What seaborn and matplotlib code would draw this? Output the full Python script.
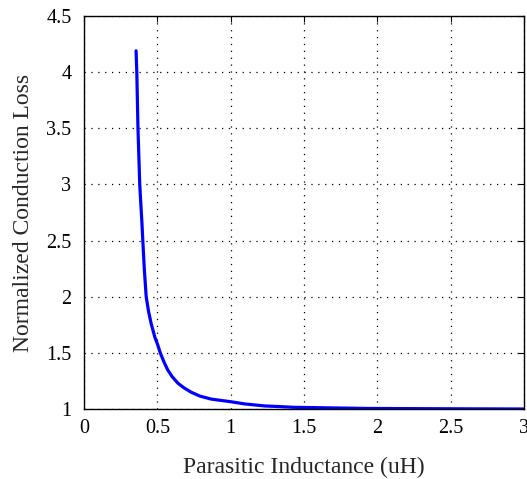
import numpy as np
import pandas as pd
import matplotlib
matplotlib.use('Agg')
import matplotlib.pyplot as plt
import seaborn as sns

# values
inductance = [0.355, 0.360, 0.368, 0.380, 0.386, 0.394, 0.401, 0.411, 0.424, 0.440,
              0.458, 0.483, 0.503, 0.520, 0.545, 0.570, 0.600, 0.640, 0.680, 0.730,
              0.790, 0.868, 1.0, 1.097, 1.234, 1.325, 1.43, 1.93, 2.5, 3.0]
loss = [4.19, 4.0, 3.5, 3.0, 2.86, 2.68, 2.5, 2.25, 2.0, 1.87,
        1.76, 1.64, 1.57, 1.50, 1.42, 1.35, 1.29, 1.23, 1.19, 1.15,
        1.115, 1.088, 1.065, 1.045, 1.027, 1.022, 1.015, 1.005, 1.002, 1.0]
xticks = [0, 0.5, 1, 1.5, 2, 2.5, 3]
yticks = [1, 1.5, 2, 2.5, 3, 3.5, 4, 4.5]

df = pd.DataFrame({'L': inductance, 'loss': loss})

sns.set_style('white')
plt.rcParams['font.family'] = ['Liberation Serif', 'DejaVu Serif']

fig = plt.figure(figsize=(5.27, 4.79), dpi=100)
ax = fig.add_axes([84 / 527, 1 - 409 / 479, 440 / 527, 393 / 479])

sns.lineplot(data=df, x='L', y='loss', ax=ax, color='#0000ff', linewidth=2.3)

ax.set_xlim(0, 3)
ax.set_ylim(1, 4.5)
ax.set_xticks(xticks)
ax.set_yticks(yticks)
ax.set_xticklabels([f'{t:g}' for t in xticks])
ax.set_yticklabels([f'{t:g}' for t in yticks])
ax.grid(True, color='black', linestyle=(0, (1, 4.5)), linewidth=0.9)
ax.tick_params(direction='in', length=4, width=0.8, labelsize=14.5, colors='black',
               top=True, right=True)
ax.tick_params(axis='y', pad=9)
ax.tick_params(axis='x', pad=7)
for s in ax.spines.values():
    s.set_color('black')
    s.set_linewidth(1.0)
ax.set_xlabel('Parasitic Inductance (uH)', fontsize=17, labelpad=14)
ax.set_ylabel('Normalized Conduction Loss', fontsize=17, labelpad=9)

fig.savefig('out.png', dpi=100)
